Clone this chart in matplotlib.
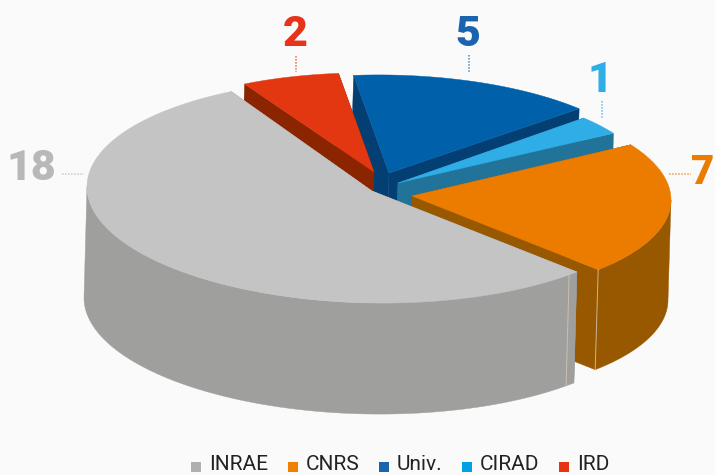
import numpy as np
import matplotlib
matplotlib.use("Agg")
import matplotlib.pyplot as plt
from matplotlib.patches import Rectangle

# ---- data ----
slice_names = ["INRAE", "CNRS", "CIRAD", "Univ.", "IRD"]   # order around the pie
slice_values = [18, 7, 1, 5, 2]
legend_names = ["INRAE", "CNRS", "Univ.", "CIRAD", "IRD"]

# ---- styles / geometry ----
W, H = 715, 475
START_ANGLE = 119.6
TILT = 0.015
top_colors = {"INRAE": "#c4c4c4", "CNRS": "#ec7c00", "Univ.": "#0060aa", "CIRAD": "#2fade6", "IRD": "#e23711"}
wall_colors = {"INRAE": "#9f9f9d", "CNRS": "#985800", "Univ.": "#033f73", "CIRAD": "#22739a", "IRD": "#8a2500"}
legend_colors = {"INRAE": "#b0b0b0", "CNRS": "#f08000", "Univ.": "#1a63ad", "CIRAD": "#00a0e6", "IRD": "#e63312"}
label_colors = {"INRAE": "#b8b8b8", "CNRS": "#ec7c00", "Univ.": "#1a63ad", "CIRAD": "#2fade6", "IRD": "#e6331a"}
# centre x, centre y, radius x, radius y, depth of each exploded slice
shape = {
    "INRAE": (372, 191, 285, 112, 111),
    "CNRS": (412, 196, 259, 102, 100),
    "CIRAD": (398, 183, 255, 99, 100),
    "Univ.": (389, 173, 261, 98, 100),
    "IRD": (374, 172, 262, 99, 100),
}
draw_order = ["Univ.", "IRD", "CIRAD", "CNRS", "INRAE"]
SKEW = -3
label_pos = {"INRAE": (31, 168), "CNRS": (703, 172), "Univ.": (468, 34), "CIRAD": (600, 80), "IRD": (295, 35)}
label_size = {"INRAE": 31, "CNRS": 29, "Univ.": 31, "CIRAD": 31, "IRD": 31}
leaders = {
    "INRAE": ((62, 84), (174, 174)),
    "CNRS": ((669, 691), (174, 174)),
    "Univ.": ((469, 469), (55, 72)),
    "CIRAD": ((602, 602), (101, 118)),
    "IRD": ((296, 296), (56, 72)),
}
legend_swatch_x = {"INRAE": 191, "CNRS": 288, "Univ.": 379, "CIRAD": 462, "IRD": 559}

fig = plt.figure(figsize=(W / 100, H / 100), dpi=100, facecolor="#fafafa")
ax = fig.add_axes([0, 0, 1, 1])
ax.set_xlim(0, W)
ax.set_ylim(H, 0)
ax.axis("off")

total = sum(slice_values)
spans = {}
a = START_ANGLE
for name, v in zip(slice_names, slice_values):
    spans[name] = (a, a + v / total * 360)
    a += v / total * 360


def rim(cx, cy, rx, ry, t):
    r = np.radians(t)
    dx = rx * np.cos(r)
    return cx + dx, cy - ry * np.sin(r) + TILT * dx


for name in draw_order:
    cx, cy, rx, ry, d = shape[name]
    a0, a1 = spans[name]
    ts = np.linspace(a0, a1, 160)
    xs, ys = rim(cx, cy, rx, ry, ts)
    # two cut walls
    for x_o, y_o in ((xs[0], ys[0]), (xs[-1], ys[-1])):
        ax.fill([cx, x_o, x_o + SKEW, cx + SKEW], [cy, y_o, y_o + d, cy + d],
                color=wall_colors[name], lw=0.3, zorder=1)
    # outer side: only its front part (180..360 degrees) can be seen
    f0, f1 = max(a0, 180), min(a1, 360)
    if f1 > f0:
        tf = np.linspace(f0, f1, 160)
        xf, yf = rim(cx, cy, rx, ry, tf)
        ax.fill(np.r_[xf, xf[::-1] + SKEW], np.r_[yf, yf[::-1] + d],
                color=wall_colors[name], lw=0.3, zorder=1)
    # top face
    ax.fill(np.r_[cx, xs], np.r_[cy, ys], facecolor=top_colors[name],
            edgecolor=top_colors[name], lw=0.3, zorder=1)

# thin seams on the sides
for name, t in (("CNRS", spans["CNRS"][0]), ("INRAE", spans["INRAE"][1] - 2.2)):
    cx, cy, rx, ry, d = shape[name]
    x0, y0 = rim(cx, cy, rx, ry, t)
    ax.plot([x0, x0 + SKEW], [y0, y0 + d], color="#d9c7b0", lw=0.7, alpha=0.8, zorder=2)

for name, v in zip(slice_names, slice_values):
    x, y = label_pos[name]
    ax.text(x, y, str(v), color=label_colors[name], fontsize=label_size[name], fontweight="black",
            family="Roboto", ha="center", va="center", zorder=3)
    lx, ly = leaders[name]
    ax.plot(lx, ly, color=label_colors[name], lw=1.1, ls=(0, (1, 1)), alpha=0.75, zorder=2)

for name in legend_names:
    x = legend_swatch_x[name]
    ax.add_patch(Rectangle((x, 462), 10, 10, facecolor=legend_colors[name], edgecolor="none", zorder=3))
    ax.text(x + 18, 470, name, color="#222222", fontsize=15, family="Roboto",
            ha="left", va="baseline", zorder=3)

fig.savefig("out.png", dpi=100, facecolor=fig.get_facecolor())
